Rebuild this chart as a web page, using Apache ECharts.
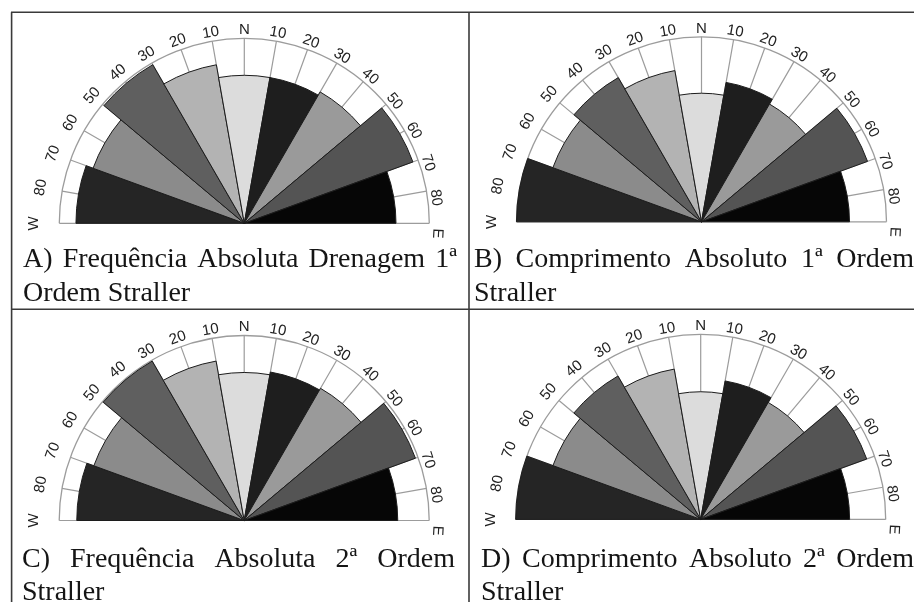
<!DOCTYPE html>
<html>
<head>
<meta charset="utf-8">
<script src="https://cdn.jsdelivr.net/npm/echarts@6/dist/echarts.min.js"></script>
<style>
  html, body { margin: 0; padding: 0; background: #ffffff; }
  #chart { width: 915px; height: 602px; }
</style>
</head>
<body>
<div id="chart"></div>
<script>
// Centre azimuth of each 20° class (degrees from north, west negative)
const directions = [-80, -60, -40, -20, 0, 20, 40, 60, 80];

// Azimuth ticks drawn on the outer ring and their labels
const tickAngles = [-90, -80, -70, -60, -50, -40, -30, -20, -10, 0, 10, 20, 30, 40, 50, 60, 70, 80, 90];
const tickLabels = ['W', '80', '70', '60', '50', '40', '30', '20', '10', 'N', '10', '20', '30', '40', '50', '60', '70', '80', 'E'];

// Petal lengths per class, relative scale (outer ring = 100)
const freqOrder1 = [91, 87, 99, 87, 80, 80, 82, 97, 82];
const lengthOrder1 = [100, 85.5, 90, 83, 69.5, 76.5, 73.5, 95.5, 80];
const freqOrder2 = [90.5, 86.5, 99.5, 87.5, 80, 81.5, 82.5, 98.5, 83];
const lengthOrder2 = [100, 85, 89.5, 82.5, 69, 76, 73, 95.5, 80.5];

// Panel captions (first line is justified, second line flush left)
const captionA = ['A) Frequência Absoluta Drenagem 1ª', 'Ordem Straller'];
const captionB = ['B) Comprimento Absoluto 1ª Ordem', 'Straller'];
const captionC = ['C) Frequência Absoluta 2ª Ordem', 'Straller'];
const captionD = ['D) Comprimento Absoluto 2ª Ordem', 'Straller'];

const RADIUS_MAX = 100;
const HALF_CLASS = 10;
const petalColors = ['#252525', '#8b8b8b', '#5f5f5f', '#b3b3b3', '#dcdcdc', '#1e1e1e', '#9a9a9a', '#545454', '#060606'];

const panels = [
  { values: freqOrder1, caption: captionA, center: [244.3, 223.3], textLeft: 23, textRight: 457, line1: 274, line2: 308 },
  { values: lengthOrder1, caption: captionB, center: [701.5, 221.8], textLeft: 474, textRight: 914, line1: 274, line2: 308 },
  { values: freqOrder2, caption: captionC, center: [244.2, 520.5], textLeft: 22, textRight: 455, line1: 573.5, line2: 607 },
  { values: lengthOrder2, caption: captionD, center: [700.7, 519.4], textLeft: 481, textRight: 914, line1: 573.5, line2: 607 }
];

const RING_RADIUS = 185;
const GRID_COLOR = '#9c9c9c';
const CAPTION_FONT = '28px "Liberation Serif"';
const TICK_FONT = '15px "Liberation Sans"';

function renderPetal(params, api) {
  const v = api.value(0);
  const az = api.value(1);
  const c = api.coord([0, az]);
  const p0 = api.coord([v, az - HALF_CLASS]);
  const p1 = api.coord([v, az + HALF_CLASS]);
  const r = Math.hypot(p0[0] - c[0], p0[1] - c[1]);
  let a0 = Math.atan2(p0[1] - c[1], p0[0] - c[0]);
  let a1 = Math.atan2(p1[1] - c[1], p1[0] - c[0]);
  if (a1 < a0) a1 += Math.PI * 2;
  return {
    type: 'sector',
    shape: { cx: c[0], cy: c[1], r0: 0, r: r, startAngle: a0, endAngle: a1, clockwise: true },
    style: { fill: petalColors[params.dataIndex], stroke: '#1c1c1c', lineWidth: 1 }
  };
}

function renderTickLabel(params, api) {
  const az = api.value(1);
  const t = az / 90;
  // labels sit just outside the ring, following its curvature
  const rr = 104.5 + (az < 0 ? 9 * t * t : 0);
  const azPos = az + (az > 0 ? 3 * t * t : 0);
  const p = api.coord([rr, azPos]);
  return {
    type: 'text',
    x: p[0],
    y: p[1],
    rotation: -azPos * Math.PI / 180,
    style: {
      text: tickLabels[params.dataIndex],
      font: TICK_FONT,
      fill: '#222222',
      align: 'center',
      verticalAlign: 'middle'
    }
  };
}

const measureCtx = document.createElement('canvas').getContext('2d');
measureCtx.font = CAPTION_FONT;

function captionElements(panel) {
  const els = [];
  const words = panel.caption[0].split(' ');
  const widths = words.map(w => measureCtx.measureText(w).width);
  const total = widths.reduce((a, b) => a + b, 0);
  const gap = (panel.textRight - panel.textLeft - total) / (words.length - 1);
  let x = panel.textLeft;
  words.forEach((w, i) => {
    els.push({
      type: 'text', x: x, y: panel.line1,
      style: { text: w, font: CAPTION_FONT, fill: '#151515', align: 'left', verticalAlign: 'bottom' }
    });
    x += widths[i] + gap;
  });
  els.push({
    type: 'text', x: panel.textLeft, y: panel.line2,
    style: { text: panel.caption[1], font: CAPTION_FONT, fill: '#151515', align: 'left', verticalAlign: 'bottom' }
  });
  return els;
}

const polar = [], angleAxis = [], radiusAxis = [], series = [];
let graphics = [];

panels.forEach((panel, i) => {
  polar.push({ center: panel.center, radius: RING_RADIUS });
  angleAxis.push({
    polarIndex: i,
    type: 'value',
    min: -90, max: 90, interval: 10,
    startAngle: 180, endAngle: 0, clockwise: true,
    axisLine: { show: true, lineStyle: { color: GRID_COLOR, width: 1.3 } },
    axisTick: { show: false },
    axisLabel: { show: false },
    splitLine: { show: true, lineStyle: { color: GRID_COLOR, width: 1.2 } },
    splitArea: { show: false }
  });
  radiusAxis.push({
    polarIndex: i,
    type: 'value',
    min: 0, max: RADIUS_MAX,
    axisLine: { show: false }, axisTick: { show: false },
    axisLabel: { show: false }, splitLine: { show: false }
  });
  series.push({
    type: 'custom',
    coordinateSystem: 'polar',
    polarIndex: i,
    renderItem: renderPetal,
    data: directions.map((d, k) => [panel.values[k], d]),
    z: 3
  });
  series.push({
    type: 'custom',
    coordinateSystem: 'polar',
    polarIndex: i,
    renderItem: renderTickLabel,
    data: tickAngles.map(a => [RADIUS_MAX, a]),
    z: 4,
    silent: true
  });
  graphics = graphics.concat(captionElements(panel));
});

// table frame around the four panels
const FRAME = { stroke: '#3a3a3a', lineWidth: 1.6 };
graphics.push(
  { type: 'line', shape: { x1: 11, y1: 12.3, x2: 914, y2: 12.3 }, style: FRAME },
  { type: 'line', shape: { x1: 11.6, y1: 12.3, x2: 11.6, y2: 602 }, style: FRAME },
  { type: 'line', shape: { x1: 469, y1: 12.3, x2: 469, y2: 602 }, style: FRAME },
  { type: 'line', shape: { x1: 11, y1: 309.3, x2: 914, y2: 309.3 }, style: FRAME }
);

const chart = echarts.init(document.getElementById('chart'), null, { renderer: 'canvas' });
chart.setOption({
  animation: false,
  backgroundColor: '#ffffff',
  polar: polar,
  angleAxis: angleAxis,
  radiusAxis: radiusAxis,
  series: series,
  graphic: { elements: graphics }
});
</script>
</body>
</html>
